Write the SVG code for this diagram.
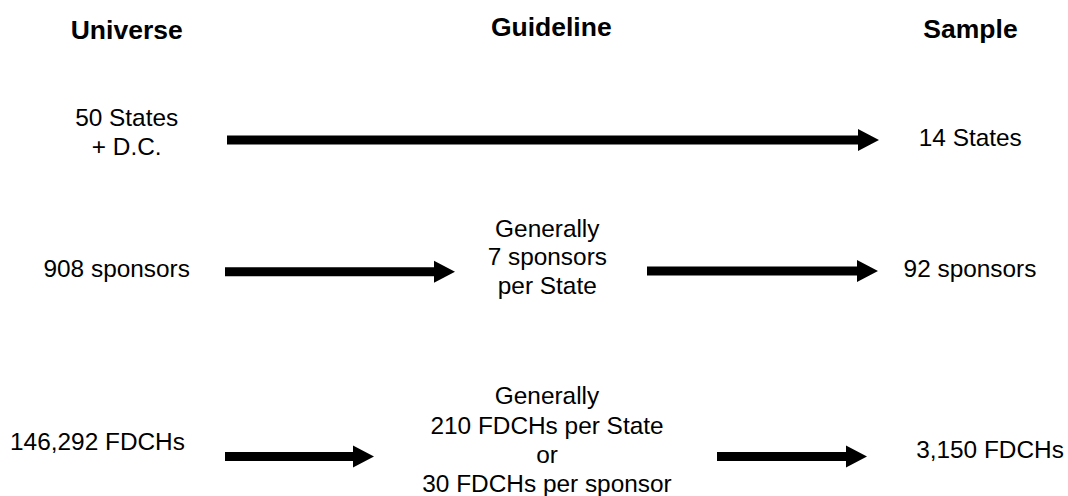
<svg xmlns="http://www.w3.org/2000/svg" width="1068" height="496" viewBox="0 0 1068 496">
<style>
  .h{font-family:"Liberation Sans",Arial,sans-serif;font-weight:bold;font-size:26.5px;fill:#000;text-anchor:middle}
  .t{font-family:"Liberation Sans",Arial,sans-serif;font-size:24.4px;fill:#000;text-anchor:middle}
  .arr{fill:#000;stroke:none}
</style>
<rect width="1068" height="496" fill="#fff"/>
<g id="headers">
  <text class="h" x="126.7" y="39">Universe</text>
  <text class="h" x="551.3" y="35.5">Guideline</text>
  <text class="h" x="970.5" y="38">Sample</text>
</g>
<g id="universe-states"><text class="t" x="126.7" y="125.7">50 States</text><text class="t" x="126.7" y="155">+ D.C.</text></g>
<g id="sample-states"><text class="t" x="970.3" y="146">14 States</text></g>
<g id="universe-sponsors"><text class="t" x="116.7" y="277">908 sponsors</text></g>
<g id="guideline-sponsors">
  <text class="t" x="547.3" y="236.5">Generally</text>
  <text class="t" x="547.3" y="265">7 sponsors</text>
  <text class="t" x="547.3" y="293.5">per State</text>
</g>
<g id="sample-sponsors"><text class="t" x="970" y="277">92 sponsors</text></g>
<g id="universe-fdchs"><text class="t" x="97.5" y="450">146,292 FDCHs</text></g>
<g id="guideline-fdchs">
  <text class="t" x="547" y="404">Generally</text>
  <text class="t" x="547" y="433.5">210 FDCHs per State</text>
  <text class="t" x="547" y="463">or</text>
  <text class="t" x="547" y="492">30 FDCHs per sponsor</text>
</g>
<g id="sample-fdchs"><text class="t" x="990" y="458.3">3,150 FDCHs</text></g>
<g id="connectors">
  <path class="arr" d="M227,135.5 H858 V129 L879,140 L858,151 V144.5 H227 Z"/>
  <path class="arr" d="M225,267.3 H434 V260.8 L455,271.8 L434,282.8 V276.3 H225 Z"/>
  <path class="arr" d="M647,266.5 H857 V260 L878,271 L857,282 V275.5 H647 Z"/>
  <path class="arr" d="M225,452 H353 V445.5 L374,456.5 L353,467.5 V461 H225 Z"/>
  <path class="arr" d="M717,452 H846 V445.5 L867,456.5 L846,467.5 V461 H717 Z"/>
</g>
</svg>
